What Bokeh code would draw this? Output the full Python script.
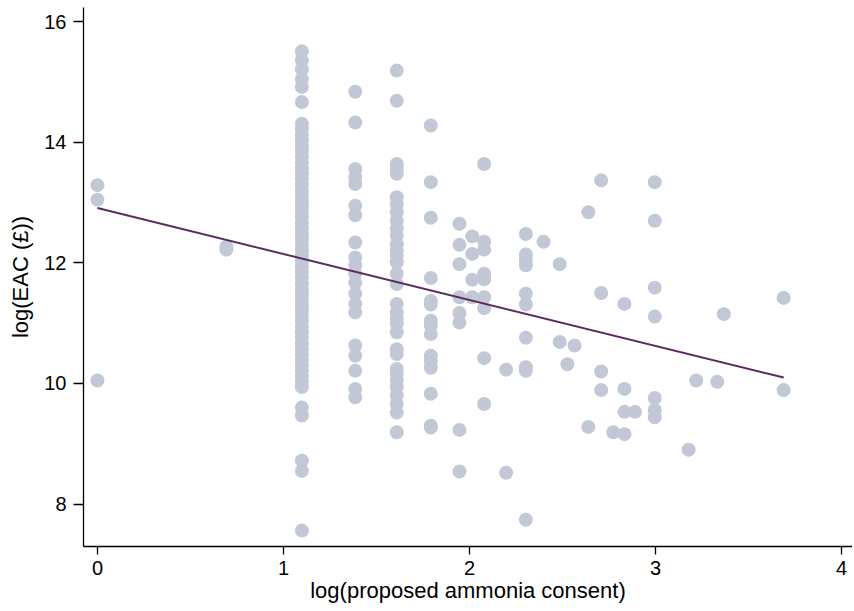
import numpy as np
from bokeh.plotting import figure
from bokeh.models import ColumnDataSource
from bokeh.embed import file_html
from bokeh.resources import INLINE

# x positions of the point columns: log(proposed ammonia consent)
col_x = [0.0, 0.693, 1.099, 1.386, 1.609, 1.792, 1.946, 2.015, 2.079,
         2.197, 2.303, 2.398, 2.485, 2.526, 2.565, 2.639, 2.708, 2.773,
         2.833, 2.890, 2.996, 3.178, 3.219, 3.332, 3.367, 3.689]

# log(EAC) values read for each column
col_y = [
    [13.29, 13.05, 10.05],
    [12.27, 12.22],
    [15.51, 15.36, 15.21, 15.05, 14.92, 14.67,
     14.31, 14.22, 14.12, 14.03, 13.94, 13.85, 13.76, 13.66, 13.57, 13.48,
     13.40, 13.30, 13.21, 13.12, 13.03, 12.94, 12.85, 12.76, 12.66, 12.57,
     12.48, 12.39, 12.30, 12.21, 12.12, 12.03, 11.94, 11.85, 11.76, 11.66,
     11.57, 11.48, 11.39, 11.30, 11.21, 11.12, 11.03, 10.94, 10.85, 10.76,
     10.66, 10.57, 10.48, 10.39, 10.30, 10.21, 10.12, 10.03, 9.94,
     9.60, 9.47, 8.72, 8.55, 7.56],
    [14.84, 14.33, 13.56, 13.42, 13.31, 12.95, 12.79, 12.34, 12.09, 11.96,
     11.82, 11.67, 11.49, 11.32, 11.18, 10.63, 10.46, 10.21, 9.91, 9.77],
    [15.19, 14.69, 13.64, 13.56, 13.48, 13.09, 12.97, 12.84, 12.70, 12.57,
     12.45, 12.31, 12.20, 12.12, 12.01, 11.82, 11.65, 11.32, 11.18, 11.08,
     10.99, 10.85, 10.57, 10.49, 10.24, 10.16, 10.05, 9.94, 9.80, 9.66,
     9.52, 9.19],
    [14.28, 13.34, 12.75, 11.75, 11.37, 11.31, 11.04, 10.96, 10.82, 10.46,
     10.37, 10.26, 9.83, 9.30, 9.27],
    [12.65, 12.30, 11.98, 11.43, 11.17, 11.01, 9.23, 8.54],
    [12.44, 12.15, 11.72, 11.43],
    [13.64, 12.35, 12.22, 11.82, 11.73, 11.43, 11.25, 10.42, 9.66],
    [10.23, 8.52],
    [12.48, 12.14, 12.04, 11.96, 11.49, 11.31, 10.76, 10.27, 10.21, 7.74],
    [12.35],
    [11.98, 10.69],
    [10.32],
    [10.63],
    [12.84, 9.28],
    [13.37, 11.50, 10.20, 9.89],
    [9.19],
    [11.32, 9.91, 9.53, 9.16],
    [9.53],
    [13.34, 12.70, 11.59, 11.11, 9.76, 9.56, 9.44],
    [8.90],
    [10.05],
    [10.03],
    [11.15],
    [11.42, 9.89],
]

# fitted line
fit_intercept = 12.91
fit_slope = -0.762

x_ticks = [0, 1, 2, 3, 4]
y_ticks = [8, 10, 12, 14, 16]

xs, ys = [], []
for cx, cy in zip(col_x, col_y):
    for v in cy:
        xs.append(cx)
        ys.append(v)
src = ColumnDataSource(data=dict(x=xs, y=ys))

FONT = "Liberation Sans"

p = figure(width=852, height=609, output_backend="svg", toolbar_location=None,
           x_range=(-0.075, 4.059), y_range=(7.296, 16.237),
           min_border_left=83, min_border_right=0, min_border_top=7,
           min_border_bottom=63,
           x_axis_label="log(proposed ammonia consent)", y_axis_label="log(EAC (£))")

p.scatter("x", "y", source=src, size=14, fill_color="#c2c8d5", line_color=None)

fx = np.array([min(xs), max(xs)])
p.line(fx, fit_intercept + fit_slope * fx, line_color="#5c2a5f", line_width=2)

p.outline_line_color = None
p.grid.grid_line_color = None
p.background_fill_color = "white"
p.border_fill_color = "white"

p.xaxis.ticker = x_ticks
p.yaxis.ticker = y_ticks
for ax in (p.xaxis, p.yaxis):
    ax.axis_line_color = "black"
    ax.axis_line_width = 1.3
    ax.major_tick_line_color = "black"
    ax.major_tick_line_width = 1.3
    ax.major_tick_in = 0
    ax.minor_tick_line_color = None
    ax.major_label_text_font = FONT
    ax.major_label_text_font_size = "20px"
    ax.major_label_text_color = "black"
    ax.axis_label_text_font = FONT
    ax.axis_label_text_font_size = "22px"
    ax.axis_label_text_font_style = "normal"
    ax.axis_label_text_color = "black"

p.xaxis.major_tick_out = 8
p.yaxis.major_tick_out = 10
p.xaxis.major_label_standoff = 6
p.yaxis.major_label_standoff = 7
p.xaxis.axis_label_standoff = 0
p.yaxis.axis_label_standoff = 8

open("out.html", "w").write(file_html(p, INLINE))
